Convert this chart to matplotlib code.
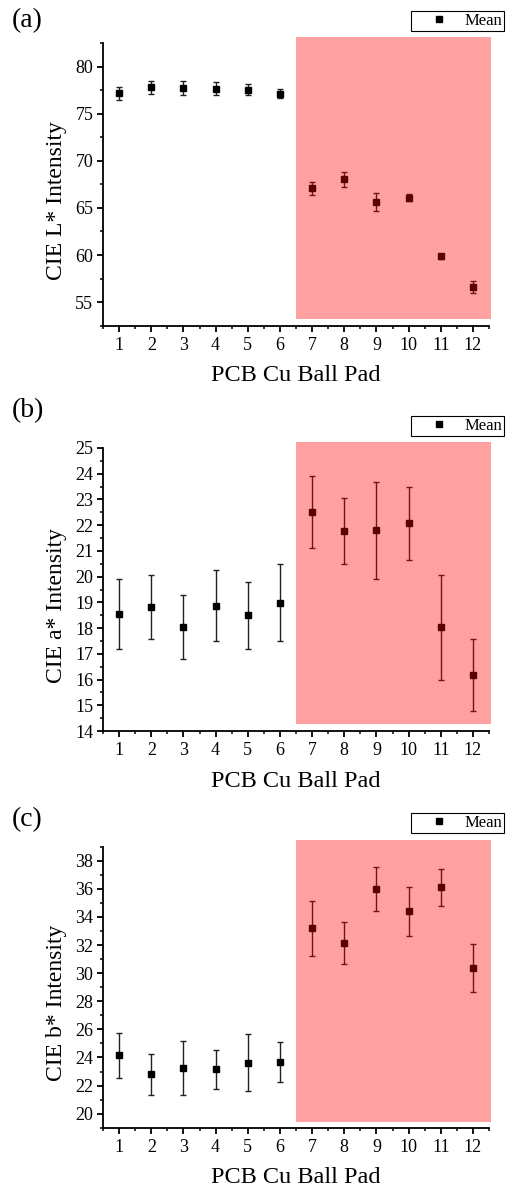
import matplotlib
matplotlib.use("Agg")
import matplotlib.pyplot as plt
from matplotlib.patches import Rectangle
from matplotlib.ticker import MultipleLocator

plt.rcParams['font.family'] = ['Liberation Serif', 'DejaVu Serif']

pads = [1, 2, 3, 4, 5, 6, 7, 8, 9, 10, 11, 12]

l_mean = [77.17, 77.8, 77.73, 77.66, 77.55, 77.13, 67.06, 68.02, 65.64, 66.1, 59.86, 56.6]
l_err = [0.7, 0.7, 0.7, 0.7, 0.6, 0.5, 0.7, 0.8, 0.95, 0.4, 0.3, 0.65]

a_mean = [18.55, 18.81, 18.03, 18.87, 18.49, 18.98, 22.5, 21.78, 21.8, 22.07, 18.03, 16.16]
a_err = [1.35, 1.25, 1.25, 1.38, 1.32, 1.5, 1.4, 1.28, 1.88, 1.42, 2.05, 1.4]

b_mean = [24.14, 22.79, 23.25, 23.16, 23.64, 23.69, 33.2, 32.15, 35.98, 34.41, 36.1, 30.39]
b_err = [1.57, 1.48, 1.9, 1.4, 2.0, 1.43, 1.95, 1.52, 1.55, 1.74, 1.34, 1.7]

panels = [
    # tag, ylabel, means, errs, ylim, major, minor, shade (y0, y1)
    ('(a)', 'CIE L* Intensity', l_mean, l_err, (52.5, 82.5), 5, 2.5, (53.2, 83.1)),
    ('(b)', 'CIE a* Intensity', a_mean, a_err, (14, 25), 1, 0.5, (14.27, 25.25)),
    ('(c)', 'CIE b* Intensity', b_mean, b_err, (19, 39), 2, 1, (19.43, 39.5)),
]

W, H = 507, 1187
# axes boxes in pixels: left, top, right, bottom
boxes = [(103, 43, 489, 325.7), (103, 448, 489, 731), (103, 846.7, 489, 1127.7)]
tag_y = [21, 411, 820]
legend_top = [11, 416, 813]

fig = plt.figure(figsize=(W / 100, H / 100), dpi=100)

for (tag, ylab, mean, err, ylim, major, minor, shade), box, ty, lt in zip(panels, boxes, tag_y, legend_top):
    x0, y0, x1, y1 = box
    ax = fig.add_axes([x0 / W, 1 - y1 / H, (x1 - x0) / W, (y1 - y0) / H])
    ax.errorbar(pads, mean, yerr=err, fmt='none', ecolor='#202020',
                elinewidth=1, capsize=2.5, capthick=1, zorder=3)
    ax.plot(pads, mean, 's', color='black', markersize=5, label='Mean', zorder=4)
    ax.add_patch(Rectangle((6.5, shade[0]), 6.07, shade[1] - shade[0],
                           facecolor=(1, 0, 0), alpha=0.37, edgecolor='none',
                           clip_on=False, zorder=5))
    ax.set_xlim(0.5, 12.5)
    ax.set_ylim(*ylim)
    ax.xaxis.set_major_locator(MultipleLocator(1))
    ax.xaxis.set_minor_locator(MultipleLocator(0.5))
    ax.yaxis.set_major_locator(MultipleLocator(major))
    ax.yaxis.set_minor_locator(MultipleLocator(minor))
    ax.spines['top'].set_visible(False)
    ax.spines['right'].set_visible(False)
    for s in ('left', 'bottom'):
        ax.spines[s].set_linewidth(1.3)
    ax.tick_params(which='major', direction='out', length=4.5, width=1.3, labelsize=13)
    ax.tick_params(which='minor', direction='out', length=2.3, width=1.1)
    ax.tick_params(axis='y', pad=2.5)
    ax.tick_params(axis='x', pad=3.5)
    ax.set_ylabel(ylab, fontsize=17)
    ax.yaxis.set_label_coords(-0.093, 0.443)
    ax.set_xlabel('PCB Cu Ball Pad', fontsize=17.5)
    ax.xaxis.set_label_coords(0.5, -0.14)
    fig.text(12 / W, 1 - ty / H, tag, fontsize=20, ha='left', va='center')
    leg = ax.legend(loc='upper right', bbox_to_anchor=(504 / W, 1 - lt / H),
                    bbox_transform=fig.transFigure, fontsize=12, frameon=True,
                    fancybox=False, borderpad=0.12, handlelength=3.2,
                    handletextpad=-0.1, borderaxespad=0, numpoints=1)
    leg.get_frame().set_edgecolor('black')
    leg.get_frame().set_linewidth(0.8)
    leg.get_frame().set_alpha(1)

fig.savefig('out.png', dpi=100)
